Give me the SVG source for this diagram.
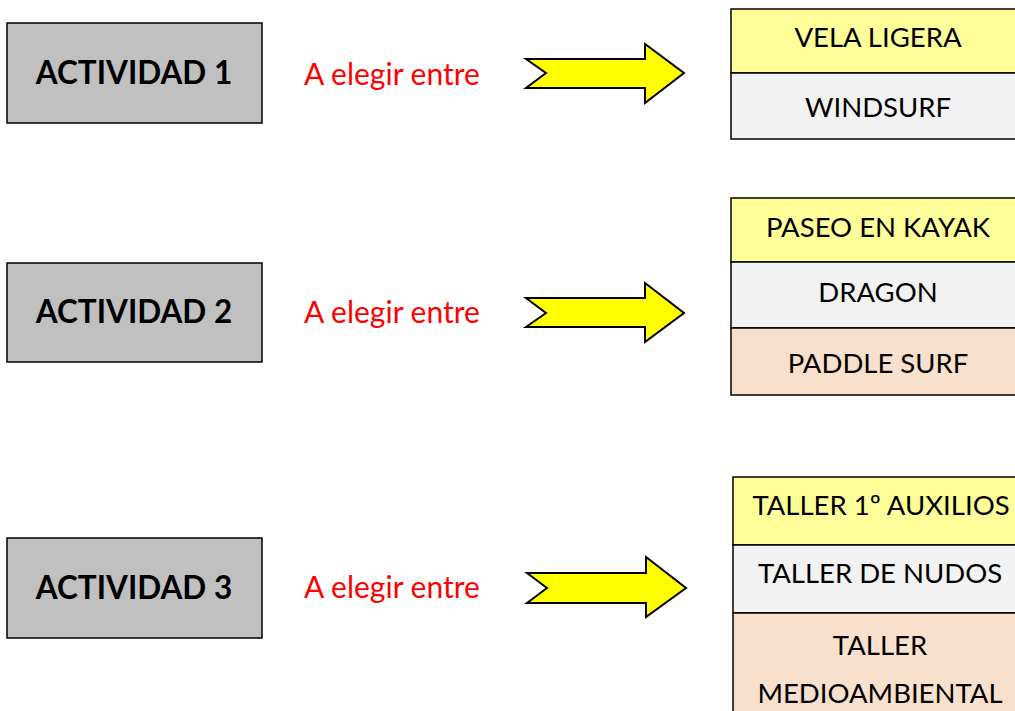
<svg xmlns="http://www.w3.org/2000/svg" width="1015" height="711" viewBox="0 0 1015 711">
<style>
.act{fill:#c0c0c0;stroke:#000;stroke-width:1.5}
.at{font-family:Lato,"Liberation Sans",sans-serif;font-weight:bold;font-size:31.5px;fill:#000;text-anchor:middle}
.el{font-family:Lato,"Liberation Sans",sans-serif;font-size:30px;fill:#ff0000;text-anchor:middle}
.arr{fill:#ffff00;stroke:#000;stroke-width:2;stroke-linejoin:miter}
.y{fill:#ffff99;stroke:#000;stroke-width:1.5}
.g{fill:#f2f2f2;stroke:#000;stroke-width:1.5}
.p{fill:#f8e0cc;stroke:#000;stroke-width:1.5}
.ot{font-family:Lato,"Liberation Sans",sans-serif;font-size:27.5px;fill:#000;text-anchor:middle}
</style>
<rect width="1015" height="711" fill="#fff"/>
<g id="actividad1">
<rect class="act" x="7" y="23" width="255" height="100"/>
<text class="at" x="134" y="84">ACTIVIDAD 1</text>
</g>
<g id="actividad2">
<rect class="act" x="7" y="263" width="255" height="99"/>
<text class="at" x="134" y="323">ACTIVIDAD 2</text>
</g>
<g id="actividad3">
<rect class="act" x="7" y="538" width="255" height="100"/>
<text class="at" x="134" y="599">ACTIVIDAD 3</text>
</g>
<g id="label1"><text class="el" x="392" y="85">A elegir entre</text></g>
<g id="label2"><text class="el" x="392" y="323">A elegir entre</text></g>
<g id="label3"><text class="el" x="392" y="598">A elegir entre</text></g>
<g id="connectors">
<path class="arr" d="M526,59 L645,59 L645,44 L684,73 L645,103 L645,88 L526,88 L546,73 Z"/>
<path class="arr" d="M526,298 L645,298 L645,283 L684,313 L645,342 L645,327 L526,327 L546,313 Z"/>
<path class="arr" d="M527,573 L646,573 L646,557 L686,588 L646,617 L646,603 L527,603 L547,588 Z"/>
</g>
<g id="options1">
<rect class="y" x="731" y="9" width="300" height="64"/>
<rect class="g" x="731" y="73" width="300" height="66"/>
<text class="ot" x="878" y="47">VELA LIGERA</text>
<text class="ot" x="878" y="117">WINDSURF</text>
</g>
<g id="options2">
<rect class="y" x="731" y="198" width="300" height="64"/>
<rect class="g" x="731" y="262" width="300" height="66"/>
<rect class="p" x="731" y="328" width="300" height="67"/>
<text class="ot" x="878" y="237">PASEO EN KAYAK</text>
<text class="ot" x="878" y="302">DRAGON</text>
<text class="ot" x="878" y="373">PADDLE SURF</text>
</g>
<g id="options3">
<rect class="y" x="733" y="477" width="300" height="68"/>
<rect class="g" x="733" y="545" width="300" height="68"/>
<rect class="p" x="733" y="613" width="300" height="110"/>
<text class="ot" x="881" y="515">TALLER 1º AUXILIOS</text>
<text class="ot" x="880" y="583">TALLER DE NUDOS</text>
<text class="ot" x="880" y="655">TALLER</text>
<text class="ot" x="880" y="703">MEDIOAMBIENTAL</text>
</g>
</svg>
